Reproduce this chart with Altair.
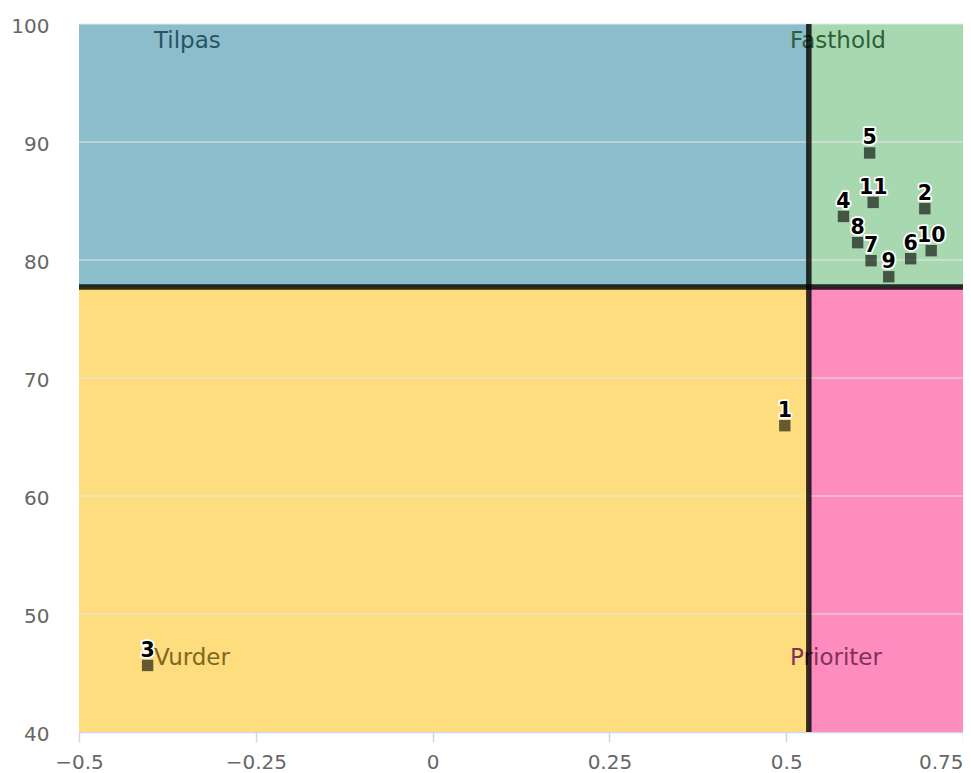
import altair as alt
import pandas as pd

# ---- data ----
point_ids = ["1", "2", "3", "4", "5", "6", "7", "8", "9", "10", "11"]
x_vals = [0.498, 0.696, -0.403, 0.581, 0.618, 0.676, 0.620, 0.601, 0.645, 0.705, 0.623]
y_vals = [65.96, 84.35, 45.64, 83.69, 89.07, 80.11, 79.94, 81.47, 78.58, 80.79, 84.88]

x_split = 0.532
y_split = 77.72
x_min, x_max = -0.5, 0.75
y_min, y_max = 40, 100

quad_names = ["Tilpas", "Fasthold", "Vurder", "Prioriter"]
quad_x1 = [x_min, x_split, x_min, x_split]
quad_x2 = [x_split, x_max, x_split, x_max]
quad_y1 = [y_split, y_split, y_min, y_min]
quad_y2 = [y_max, y_max, y_split, y_split]
quad_colors = ["#8cbdcb", "#a8d8b0", "#fedd7e", "#ff8cbf"]
quad_text_colors = ["#285464", "#2d5f3a", "#7f6720", "#7f3259"]
quad_label_x = [-0.394, 0.5055, -0.394, 0.5055]
quad_label_y = [97.95, 97.95, 45.64, 45.64]

x_ticks = [-0.5, -0.25, 0, 0.25, 0.5, 0.75]
y_ticks = [40, 50, 60, 70, 80, 90, 100]
grid_values = [50, 60, 70, 80, 90, 100]

# ---- tables ----
points = pd.DataFrame({"id": point_ids, "x": x_vals, "y": y_vals})
quads = pd.DataFrame({
    "name": quad_names, "x1": quad_x1, "x2": quad_x2,
    "y1": quad_y1, "y2": quad_y2, "color": quad_colors,
    "tcolor": quad_text_colors, "lx": quad_label_x, "ly": quad_label_y,
})
grid = pd.DataFrame({"v": grid_values})
vsplit = pd.DataFrame({"x": [x_split]})
hsplit = pd.DataFrame({"y": [y_split]})

xs = alt.Scale(domain=[x_min, x_max], nice=False, zero=False)
ys = alt.Scale(domain=[y_min, y_max], nice=False, zero=False)

x_axis = alt.Axis(values=x_ticks, format="~g", grid=False, title=None,
                  domainColor="#ccd6eb", domainWidth=1.5,
                  tickColor="#ccd6eb", tickWidth=1.5, tickSize=10,
                  labelPadding=10, labelFlush=False,
                  labelAlign=alt.condition("datum.value == 0.75",
                                           alt.value("right"), alt.value("center")))
y_axis = alt.Axis(values=y_ticks, grid=False, title=None, domain=False,
                  ticks=False, tickSize=0, labelPadding=30, labelOffset=2)

rects = alt.Chart(quads).mark_rect().encode(
    x=alt.X("x1:Q", scale=xs, axis=x_axis),
    x2="x2:Q",
    y=alt.Y("y1:Q", scale=ys, axis=y_axis),
    y2="y2:Q",
    color=alt.Color("color:N", scale=None),
)

gridlines = alt.Chart(grid).mark_rule(color="#e6e6e6", strokeWidth=1).encode(
    y=alt.Y("v:Q", scale=ys)
)

qlabels = alt.Chart(quads).mark_text(
    align="left", baseline="alphabetic", fontSize=23, font="DejaVu Sans",
).encode(
    x=alt.X("lx:Q", scale=xs), y=alt.Y("ly:Q", scale=ys), text="name:N",
    color=alt.Color("tcolor:N", scale=None),
)

vline = alt.Chart(vsplit).mark_rule(color="black", opacity=0.8, strokeWidth=5.5).encode(
    x=alt.X("x:Q", scale=xs)
)
hline = alt.Chart(hsplit).mark_rule(color="black", opacity=0.8, strokeWidth=5.5).encode(
    y=alt.Y("y:Q", scale=ys)
)

markers = alt.Chart(points).mark_point(
    shape="square", filled=True, size=130, color="black", opacity=0.6
).encode(x=alt.X("x:Q", scale=xs), y=alt.Y("y:Q", scale=ys))

lab_outline = alt.Chart(points).mark_text(
    fontSize=20.5, fontWeight="bold", font="DejaVu Sans", baseline="alphabetic",
    dy=-8.5, stroke="white", strokeWidth=3.5, strokeJoin="round", color="white"
).encode(x=alt.X("x:Q", scale=xs), y=alt.Y("y:Q", scale=ys), text="id:N")

lab_fill = alt.Chart(points).mark_text(
    fontSize=20.5, fontWeight="bold", font="DejaVu Sans", baseline="alphabetic",
    dy=-8.5, color="black"
).encode(x=alt.X("x:Q", scale=xs), y=alt.Y("y:Q", scale=ys), text="id:N")

chart = alt.layer(
    rects, gridlines, qlabels, vline, hline, markers, lab_outline, lab_fill
).properties(
    width=884, height=708,
    autosize=alt.AutoSizeParams(type="none"),
    padding={"left": 71, "top": 16, "right": 0, "bottom": 40},
).configure_view(stroke=None).configure_axis(
    labelFont="DejaVu Sans", labelFontSize=20, labelColor="#666666"
)

chart.save("out.html", embed_options={"renderer": "svg", "actions": False})
